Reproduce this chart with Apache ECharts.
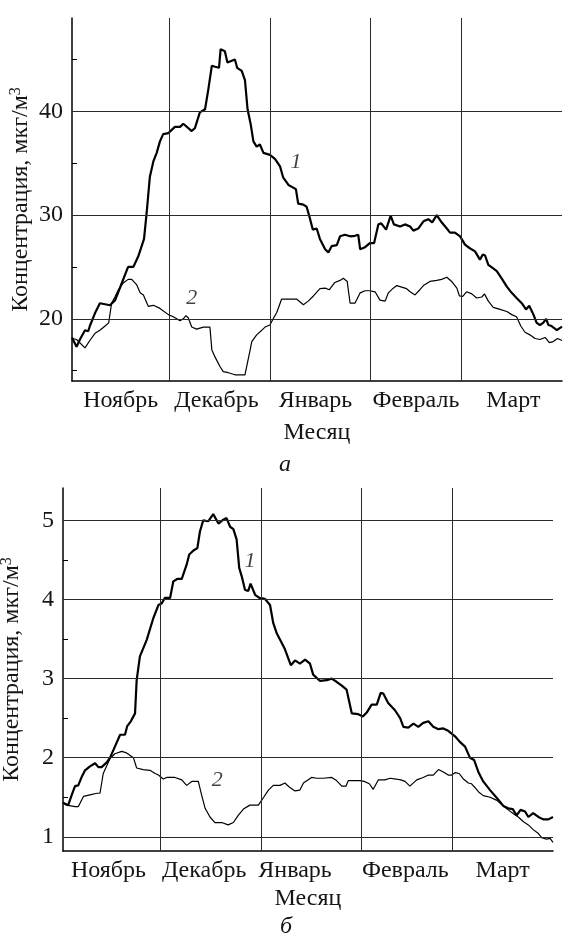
<!DOCTYPE html>
<html><head><meta charset="utf-8">
<script src="https://cdn.jsdelivr.net/npm/echarts@6/dist/echarts.min.js"></script>
<style>html,body{margin:0;padding:0;background:#fff}#c{width:563px;height:940px}</style>
</head><body><div id="c"></div>
<script>
// ---- data ----
const monthNames = ['Ноябрь', 'Декабрь', 'Январь', 'Февраль', 'Март'];
const monthBounds = [30, 61, 92, 120];           // days from 1 Nov where months change
const topLabelDays = [15, 44.5, 75, 106, 136];
const botLabelDays = [14, 43.5, 71.5, 105.5, 135.5];
const topYLabels = [20, 30, 40];
const topYTicks = [15, 20, 25, 30, 35, 40, 45];
const botYLabels = [1, 2, 3, 4, 5];
const botYTicks = [1, 1.5, 2, 2.5, 3, 3.5, 4, 4.5, 5];

// panel a: curve 1 (thick) [day, µg/m3]
const topCurve1 = [[0,18.2],[1.4,17.3],[2.6,18.1],[4.0,18.9],[5.0,18.8],[5.5,19.3],[7.1,20.55],[8.6,21.5],[10.2,21.4],[11.7,21.3],[13.3,21.8],[15.3,23.4],[16.9,24.7],[17.3,25.0],[18.9,25.0],[20.4,26.0],[22.2,27.7],[23.0,30.2],[24.0,33.7],[25.1,35.2],[26.1,36.0],[27.1,37.1],[28.1,37.8],[29.7,37.9],[30.2,37.8],[31.7,38.5],[33.3,38.5],[34.3,38.8],[36.9,38.1],[37.9,38.4],[39.4,39.9],[41.0,40.2],[42.0,42.1],[43.1,44.4],[44.1,44.3],[45.3,44.2],[45.8,46.0],[47.1,45.8],[47.9,44.7],[50.2,45.0],[50.9,44.2],[52.3,43.9],[53.3,43.0],[54.1,40.2],[55.1,38.7],[55.9,37.1],[56.9,36.6],[57.9,36.8],[59.0,36.0],[61.0,35.8],[62.6,35.4],[64.1,34.7],[65.1,33.6],[66.7,32.9],[69.0,32.5],[69.7,31.1],[71.3,31.0],[72.3,30.8],[73.3,29.7],[74.2,28.6],[75.4,28.7],[76.4,27.7],[78.0,26.7],[79.0,26.4],[80.0,27.0],[81.6,27.1],[82.6,27.95],[84.1,28.1],[85.7,27.95],[87.2,28.0],[88.2,28.1],[88.8,26.7],[90.3,26.9],[91.8,27.3],[93.1,27.3],[94.4,29.1],[95.3,29.2],[96.8,28.6],[98.2,29.95],[99.2,29.1],[101.1,28.9],[102.6,29.1],[104.2,28.9],[105.2,28.5],[106.7,28.7],[108.3,29.4],[109.8,29.6],[111.0,29.3],[112.4,30.0],[113.9,29.3],[115.5,28.7],[116.5,28.3],[118.0,28.3],[119.6,27.95],[121.1,27.15],[122.6,26.8],[124.2,26.5],[125.7,25.7],[126.6,26.2],[127.3,26.1],[128.3,25.2],[129.6,24.9],[130.9,24.6],[132.4,23.9],[134.0,23.1],[135.5,22.5],[137.0,22.0],[138.6,21.5],[139.9,20.9],[140.9,21.25],[142.2,20.4],[143.2,19.6],[144.2,19.4],[145.2,19.6],[146.1,20.0],[146.8,19.4],[147.8,19.3],[149.4,18.9],[151,19.25]];
// panel a: curve 2 (thin)
const topCurve2 = [[0,18.1],[1.4,18.0],[4.0,17.2],[4.5,17.2],[5.7,18.0],[7.1,18.6],[8.6,18.9],[10.2,19.3],[11.3,19.6],[12.2,21.5],[13.3,22.15],[14.3,22.8],[15.8,23.45],[17.3,23.8],[18.4,23.8],[19.9,23.3],[21.0,22.5],[22.0,22.3],[23.5,21.2],[25.1,21.3],[27.1,21.0],[29.7,20.4],[31.2,20.2],[33.3,19.8],[34.3,20.0],[35.1,20.3],[35.8,20.1],[36.9,19.2],[38.4,19.0],[40.5,19.2],[42.5,19.2],[43.1,17.0],[44.1,16.3],[45.6,15.4],[46.6,14.9],[48.2,14.8],[50.2,14.6],[53.3,14.6],[54.9,17.0],[55.4,17.8],[56.9,18.45],[58.5,18.9],[59.5,19.2],[61.0,19.4],[62.0,20.0],[63.1,20.6],[64.6,21.9],[69.2,21.9],[71.3,21.35],[72.8,21.7],[74.4,22.2],[76.4,22.9],[78.0,22.95],[79.3,22.8],[81.0,23.5],[82.6,23.7],[83.6,23.9],[84.8,23.6],[85.7,21.5],[87.2,21.5],[88.8,22.5],[90.3,22.7],[91.8,22.7],[93.4,22.6],[94.9,21.8],[96.5,21.7],[97.5,22.5],[99.0,22.95],[100.1,23.2],[101.1,23.1],[103.1,22.9],[104.2,22.6],[105.7,22.3],[107.2,22.8],[108.3,23.2],[110.3,23.6],[112.4,23.7],[113.9,23.8],[115.5,24.0],[117.0,23.6],[118.6,22.95],[119.4,22.2],[120.4,22.15],[121.6,22.6],[123.2,22.4],[124.7,22.0],[126.3,22.1],[127.1,22.4],[128.3,21.7],[129.8,21.1],[131.9,20.9],[134.0,20.7],[135.5,20.4],[137.0,20.2],[138.3,19.3],[139.6,18.7],[141.1,18.45],[142.7,18.1],[144.2,18.0],[145.8,18.2],[147.1,17.7],[148.3,17.8],[149.6,18.1],[151,17.9]];
// panel б: curve 1 (thick)
const botCurve1 = [[0,1.43],[1.6,1.40],[2.7,1.53],[3.7,1.64],[4.7,1.65],[5.8,1.76],[6.8,1.84],[8.3,1.89],[9.9,1.93],[10.9,1.88],[11.9,1.88],[13.5,1.94],[14.5,2.0],[16.0,2.14],[17.6,2.29],[19.1,2.29],[19.8,2.40],[20.9,2.46],[22.2,2.56],[22.7,2.98],[23.7,3.28],[25.8,3.49],[27.8,3.76],[29.4,3.93],[30.4,3.95],[31.4,4.02],[33.0,4.02],[34.0,4.23],[35.2,4.26],[36.6,4.26],[38.1,4.44],[38.9,4.57],[40.2,4.62],[41.4,4.65],[42.2,4.86],[43.2,5.0],[44.8,4.99],[46.3,5.08],[47.9,4.96],[49.4,5.01],[50.4,5.03],[51.5,4.92],[52.5,4.89],[53.5,4.76],[54.3,4.40],[55.1,4.29],[56.1,4.12],[57.1,4.11],[57.8,4.20],[59.2,4.06],[60.5,4.02],[62.2,4.01],[63.8,3.93],[64.8,3.70],[65.9,3.57],[66.9,3.49],[68.4,3.37],[70.2,3.17],[71.5,3.23],[73.0,3.19],[74.6,3.24],[76.1,3.19],[77.1,3.05],[79.2,2.97],[81.3,2.98],[82.8,3.0],[84.3,2.96],[85.9,2.91],[87.4,2.86],[89.0,2.56],[91.0,2.55],[92.4,2.52],[93.6,2.57],[95.1,2.67],[96.7,2.67],[97.9,2.82],[98.7,2.81],[100.2,2.69],[102.3,2.60],[103.9,2.50],[104.9,2.39],[106.4,2.38],[108.0,2.43],[109.5,2.39],[111.0,2.44],[112.6,2.46],[114.1,2.39],[115.7,2.36],[117.2,2.37],[118.7,2.34],[120.8,2.27],[122.3,2.20],[123.9,2.14],[125.4,2.0],[126.7,1.97],[128.0,1.82],[129.5,1.70],[131.6,1.59],[133.7,1.49],[135.7,1.39],[137.2,1.36],[138.6,1.35],[139.8,1.27],[141.0,1.34],[142.4,1.32],[143.4,1.25],[144.9,1.30],[146.5,1.25],[148.0,1.22],[149.6,1.22],[151,1.25]];
// panel б: curve 2 (thin)
const botCurve2 = [[0,1.43],[1.1,1.40],[3.7,1.38],[4.7,1.38],[6.3,1.51],[8.3,1.53],[10.4,1.55],[11.4,1.55],[12.4,1.80],[14.5,1.99],[16.0,2.05],[18.1,2.08],[19.6,2.06],[21.7,2.0],[22.7,1.87],[24.7,1.85],[26.8,1.84],[28.4,1.80],[29.4,1.78],[30.9,1.73],[32.0,1.75],[34.5,1.75],[36.6,1.72],[38.1,1.65],[39.7,1.70],[41.7,1.70],[42.7,1.53],[43.8,1.36],[45.3,1.25],[46.8,1.18],[48.9,1.18],[50.9,1.15],[52.5,1.18],[54.0,1.27],[55.6,1.35],[57.6,1.40],[60.2,1.40],[61.7,1.49],[63.3,1.59],[64.8,1.65],[66.9,1.65],[68.4,1.68],[69.7,1.63],[71.5,1.58],[73.0,1.59],[74.1,1.68],[76.6,1.75],[78.2,1.74],[80.2,1.74],[82.8,1.75],[84.3,1.71],[85.9,1.64],[87.2,1.64],[87.9,1.71],[91.5,1.71],[92.8,1.70],[94.4,1.67],[95.6,1.60],[97.2,1.72],[99.2,1.72],[100.8,1.74],[102.6,1.73],[104.1,1.72],[105.4,1.70],[106.9,1.64],[109.0,1.72],[111.0,1.75],[112.6,1.78],[114.1,1.78],[115.7,1.85],[117.2,1.82],[118.7,1.78],[119.8,1.78],[120.8,1.81],[122.1,1.80],[123.4,1.73],[124.9,1.68],[125.9,1.67],[127.0,1.62],[128.0,1.57],[129.5,1.52],[131.6,1.50],[133.7,1.46],[135.7,1.39],[137.2,1.34],[138.8,1.29],[140.3,1.25],[141.9,1.19],[143.4,1.15],[144.9,1.09],[146.5,1.04],[147.5,0.99],[149.0,0.97],[150.1,0.98],[151,0.93]];

// curve number annotations [day, value]
const topLabel1 = [69, 35.1];
const topLabel2 = [36.9, 22.0];
const botLabel1 = [57.6, 4.48];
const botLabel2 = [47.5, 1.72];

// ---- chart ----
const FONT = 'Liberation Serif';
const FS = 24;
const TXT = '#151515';
const chart = echarts.init(document.getElementById('c'), null, {renderer: 'canvas'});

function monthFormatter(days) {
  return function (v) {
    let best = 0, bd = 1e9;
    days.forEach((d, i) => { const dd = Math.abs(d - v); if (dd < bd) { bd = dd; best = i; } });
    return monthNames[best];
  };
}
function xAxisDef(gridIndex, labelDays, nameGap) {
  return {
    type: 'value', gridIndex, min: 0, max: 151,
    splitLine: {show: false},
    axisTick: {show: false},
    axisLine: {show: true, onZero: false, lineStyle: {color: '#000', width: 1.5}},
    axisLabel: {customValues: labelDays, formatter: monthFormatter(labelDays),
      fontFamily: FONT, fontSize: FS, color: TXT, margin: 8},
    name: 'Месяц', nameLocation: 'middle', nameGap, nameMoveOverlap: false,
    nameTextStyle: {fontFamily: FONT, fontSize: FS, color: TXT}
  };
}
function yAxisDef(gridIndex, min, max, labels, ticks) {
  return {
    type: 'value', gridIndex, min, max,
    splitLine: {show: false},
    axisLine: {show: true, lineStyle: {color: '#000', width: 1.5}},
    axisTick: {show: true, inside: true, length: 5, customValues: ticks, lineStyle: {color: '#000', width: 1}},
    axisLabel: {customValues: labels, fontFamily: FONT, fontSize: FS, color: TXT, margin: 9},
    name: 'Концентрация, мкг/м{sup|3}', nameLocation: 'middle', nameGap: 38, nameRotate: 90,
    nameMoveOverlap: false,
    nameTextStyle: {fontFamily: FONT, fontSize: FS, color: TXT,
      rich: {sup: {fontFamily: FONT, fontSize: 16, color: TXT, verticalAlign: 'top', padding: [0, 0, 10, 0]}}}
  };
}
function gridLines(yVals) {
  return {
    silent: true, symbol: ['none', 'none'], animation: false,
    label: {show: false},
    lineStyle: {color: '#2a2a2a', width: 1, type: 'solid'},
    emphasis: {disabled: true},
    data: monthBounds.map(d => ({xAxis: d})).concat(yVals.map(v => ({yAxis: v})))
  };
}
function curve(idx, data, width, withGrid, yVals) {
  const s = {
    type: 'line', xAxisIndex: idx, yAxisIndex: idx, data,
    symbol: 'none', showSymbol: false, animation: false, silent: true,
    lineStyle: {color: '#000', width}, z: 3
  };
  if (withGrid) s.markLine = gridLines(yVals);
  return s;
}
function numLabel(idx, pos, text) {
  return {
    type: 'scatter', xAxisIndex: idx, yAxisIndex: idx, data: [pos],
    symbolSize: 1, itemStyle: {color: 'rgba(0,0,0,0)'}, silent: true, animation: false,
    label: {show: true, position: 'inside', formatter: text, fontFamily: FONT,
      fontStyle: 'italic', fontSize: 22, color: '#111'}
  };
}

chart.setOption({
  backgroundColor: '#fff',
  animation: false,
  title: [
    {text: 'а', left: 274, top: 448, textStyle: {fontFamily: FONT, fontStyle: 'italic', fontWeight: 'normal', fontSize: FS, color: TXT}},
    {text: 'б', left: 275, top: 910, textStyle: {fontFamily: FONT, fontStyle: 'italic', fontWeight: 'normal', fontSize: FS, color: TXT}}
  ],
  grid: [
    {left: 72, top: 18, right: 1, bottom: 559, containLabel: false, outerBoundsMode: 'none'},
    {left: 63, top: 488, right: 10, bottom: 89, containLabel: false, outerBoundsMode: 'none'}
  ],
  xAxis: [xAxisDef(0, topLabelDays, 40), xAxisDef(1, botLabelDays, 36)],
  yAxis: [yAxisDef(0, 14, 49, topYLabels, topYTicks), yAxisDef(1, 0.82, 5.41, botYLabels, botYTicks)],
  series: [
    curve(0, topCurve1, 2.2, true, topYLabels),
    curve(0, topCurve2, 1.2, false),
    curve(1, botCurve1, 2.2, true, botYLabels),
    curve(1, botCurve2, 1.2, false),
    numLabel(0, topLabel1, '1'),
    numLabel(0, topLabel2, '2'),
    numLabel(1, botLabel1, '1'),
    numLabel(1, botLabel2, '2')
  ]
});
</script></body></html>
